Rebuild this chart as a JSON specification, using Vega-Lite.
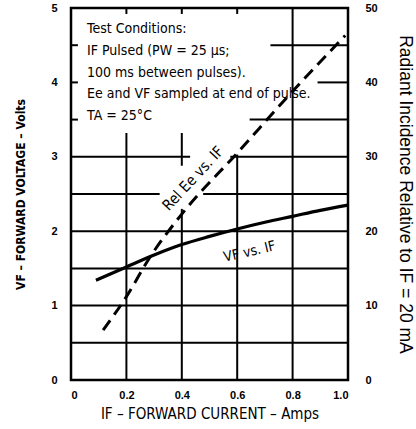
{
  "$schema": "https://vega.github.io/schema/vega-lite/v6.json",
  "width": 277,
  "height": 372,
  "autosize": "none",
  "padding": {"left": 71, "top": 8, "right": 68, "bottom": 49},
  "background": "white",
  "config": {
    "view": {"stroke": "black", "strokeWidth": 2.5},
    "axis": {"domain": false, "ticks": false, "grid": false, "labelColor": "black", "titleColor": "black"}
  },
  "datasets": {
    "grid": [
      {"x": 0, "x2": 1, "y": 0.5, "y2": 0.5},
      {"x": 0, "x2": 1, "y": 1.0, "y2": 1.0},
      {"x": 0, "x2": 1, "y": 1.5, "y2": 1.5},
      {"x": 0, "x2": 1, "y": 2.0, "y2": 2.0},
      {"x": 0, "x2": 0.32, "y": 2.5, "y2": 2.5},
      {"x": 0.477, "x2": 1, "y": 2.5, "y2": 2.5},
      {"x": 0, "x2": 0.43, "y": 3.0, "y2": 3.0},
      {"x": 0.575, "x2": 1, "y": 3.0, "y2": 3.0},
      {"x": 0.645, "x2": 1, "y": 3.5, "y2": 3.5},
      {"x": 0.89, "x2": 1, "y": 4.0, "y2": 4.0},
      {"x": 0.72, "x2": 1, "y": 4.5, "y2": 4.5},
      {"x": 0, "x2": 0.025, "y": 3.5, "y2": 3.5},
      {"x": 0, "x2": 0.025, "y": 4.0, "y2": 4.0},
      {"x": 0, "x2": 0.025, "y": 4.5, "y2": 4.5},
      {"x": 0.2, "x2": 0.2, "y": 0, "y2": 3.32},
      {"x": 0.2, "x2": 0.2, "y": 4.92, "y2": 5},
      {"x": 0.4, "x2": 0.4, "y": 0, "y2": 2.3},
      {"x": 0.4, "x2": 0.4, "y": 2.88, "y2": 3.32},
      {"x": 0.4, "x2": 0.4, "y": 4.92, "y2": 5},
      {"x": 0.6, "x2": 0.6, "y": 0, "y2": 3.03},
      {"x": 0.6, "x2": 0.6, "y": 4.92, "y2": 5},
      {"x": 0.8, "x2": 0.8, "y": 0, "y2": 5}
    ],
    "vf": [
      {"current": 0.09, "vf": 1.34},
      {"current": 0.2, "vf": 1.52},
      {"current": 0.3, "vf": 1.68},
      {"current": 0.4, "vf": 1.82},
      {"current": 0.5, "vf": 1.93},
      {"current": 0.6, "vf": 2.03},
      {"current": 0.7, "vf": 2.12},
      {"current": 0.8, "vf": 2.2},
      {"current": 0.9, "vf": 2.28},
      {"current": 1.0, "vf": 2.35}
    ],
    "ee": [
      {"current": 0.116, "ee": 6.7},
      {"current": 0.2, "ee": 11.2},
      {"current": 0.285, "ee": 16.5},
      {"current": 0.4, "ee": 22.3},
      {"current": 0.6, "ee": 30.5},
      {"current": 0.8, "ee": 38.8},
      {"current": 0.99, "ee": 46.3}
    ]
  },
  "layer": [
    {
      "layer": [
        {
          "data": {"name": "grid"},
          "mark": {"type": "rule", "stroke": "black", "strokeWidth": 2},
          "encoding": {
            "x": {
              "field": "x", "type": "quantitative",
              "scale": {"domain": [0, 1], "nice": false},
              "axis": {
                "values": [0, 0.2, 0.4, 0.6, 0.8, 1.0],
                "labelExpr": "datum.value == 0 ? '0' : format(datum.value, '.1f')",
                "labelFont": "Liberation Sans", "labelFontSize": 11, "labelFontWeight": "bold",
                "labelPadding": 9,
                "title": "IF – FORWARD CURRENT – Amps",
                "titleFont": "Liberation Sans Narrow, DejaVu Sans Condensed, sans-serif",
                "titleFontSize": 15, "titleFontWeight": "normal", "titlePadding": 6
              }
            },
            "x2": {"field": "x2"},
            "y": {
              "field": "y", "type": "quantitative",
              "scale": {"domain": [0, 5], "nice": false},
              "axis": {
                "orient": "left",
                "values": [0, 1, 2, 3, 4, 5],
                "format": "d",
                "labelFont": "Liberation Sans", "labelFontSize": 11, "labelFontWeight": "bold",
                "labelPadding": 14,
                "title": "VF – FORWARD VOLTAGE – Volts",
                "titleFont": "Liberation Sans Narrow, DejaVu Sans Condensed, sans-serif",
                "titleFontSize": 12, "titleFontWeight": "bold", "titlePadding": 23
              }
            },
            "y2": {"field": "y2"}
          }
        },
        {
          "data": {"name": "vf"},
          "mark": {"type": "line", "stroke": "black", "strokeWidth": 3.2, "interpolate": "monotone"},
          "encoding": {
            "x": {"field": "current", "type": "quantitative", "scale": {"domain": [0, 1], "nice": false}},
            "y": {"field": "vf", "type": "quantitative", "scale": {"domain": [0, 5], "nice": false}}
          }
        },
        {
          "data": {"values": [{}]},
          "mark": {
            "type": "text",
            "text": ["Test Conditions:", "IF Pulsed (PW = 25 µs;", "100 ms between pulses).", "Ee and VF sampled at end of pulse.", "TA = 25°C"],
            "align": "left", "baseline": "alphabetic", "lineHeight": 21.7,
            "font": "Liberation Sans Narrow, DejaVu Sans Condensed, sans-serif", "fontSize": 14, "fill": "black"
          },
          "encoding": {
            "x": {"datum": 0.058, "type": "quantitative"},
            "y": {"datum": 4.66, "type": "quantitative"}
          }
        },
        {
          "data": {"values": [{}]},
          "mark": {
            "type": "text", "text": "Rel Ee vs. IF", "angle": -47,
            "align": "center", "baseline": "middle",
            "font": "Liberation Sans Narrow, DejaVu Sans Condensed, sans-serif", "fontSize": 15, "fill": "black"
          },
          "encoding": {
            "x": {"datum": 0.44, "type": "quantitative"},
            "y": {"datum": 2.71, "type": "quantitative"}
          }
        },
        {
          "data": {"values": [{}]},
          "mark": {
            "type": "text", "text": "VF vs. IF", "angle": -13,
            "align": "center", "baseline": "middle",
            "font": "Liberation Sans Narrow, DejaVu Sans Condensed, sans-serif", "fontSize": 14, "fill": "black"
          },
          "encoding": {
            "x": {"datum": 0.645, "type": "quantitative"},
            "y": {"datum": 1.72, "type": "quantitative"}
          }
        }
      ]
    },
    {
      "data": {"name": "ee"},
      "mark": {"type": "line", "stroke": "black", "strokeWidth": 3, "strokeDash": [12, 7], "interpolate": "monotone"},
      "encoding": {
        "x": {"field": "current", "type": "quantitative", "scale": {"domain": [0, 1], "nice": false}},
        "y": {
          "field": "ee", "type": "quantitative",
          "scale": {"domain": [0, 50], "nice": false},
          "axis": {
            "orient": "right",
            "values": [0, 10, 20, 30, 40, 50],
            "labelFont": "Liberation Sans", "labelFontSize": 11, "labelFontWeight": "bold",
            "labelPadding": 17,
            "title": "Radiant Incidence Relative to IF = 20 mA",
            "titleFont": "Liberation Sans", "titleFontSize": 17.5, "titleFontWeight": "normal", "titlePadding": 18
          }
        }
      }
    }
  ],
  "resolve": {"scale": {"y": "independent"}}
}
